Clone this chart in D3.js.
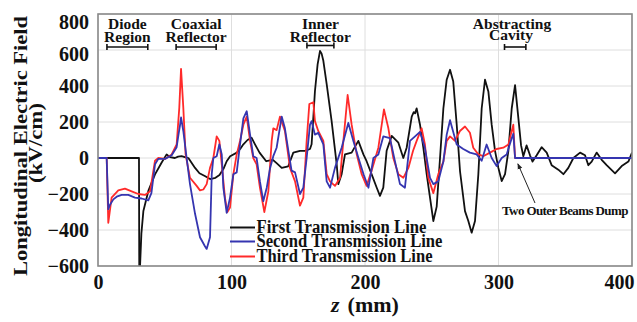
<!DOCTYPE html>
<html><head><meta charset="utf-8">
<script src="https://cdn.jsdelivr.net/npm/d3@7/dist/d3.min.js"></script>
<style>
html,body{margin:0;padding:0;background:#fff;}
svg{display:block;}
text{font-family:"Liberation Serif","Times New Roman",serif;font-weight:bold;fill:#111;}
</style></head>
<body>
<svg id="chart" width="637" height="322"></svg>
<script>
// ---- data (z in mm, field in kV/cm) ----
const firstLine = [[0,0],[30.7,0],[30.9,-600],[31.5,-600],[32.5,-420],[34,-294],[37.7,-183],[42.7,-91],[47.7,-25],[51.4,20],[54,5],[57.6,0],[60,8],[62.6,10],[65,5],[67.7,0],[72.7,-55],[76,-85],[80,-100],[84,-117],[88,-110],[91,-95],[94,-60],[96.4,-18],[99,10],[104,30],[106.5,50],[108.9,76],[112,100],[115,113],[117.6,76],[121,30],[126,-18],[131,-10],[134,-30],[137.6,-55],[142.5,-46],[146.3,30],[151.3,40],[155,40],[158.8,50],[160,76],[161.5,250],[162.5,371],[164.5,520],[166.3,595],[167.5,580],[168.8,540],[171.3,410],[175,205],[178.8,-35],[180,-145],[182.5,-90],[185,20],[190,30],[195,95],[198.8,20],[201.2,-18],[205,-91],[208.8,-165],[211.2,-210],[213.7,-165],[216.2,40],[220,123],[225,85],[228.7,0],[231.2,57],[235,230],[236.5,255],[237.5,248],[238.7,276],[241.2,185],[243.7,57],[246.2,-90],[248.7,-220],[251.2,-350],[253.7,-270],[256.2,0],[258.7,275],[261.2,435],[263.7,490],[266.1,425],[268.7,185],[271.2,-75],[274.9,-295],[277.4,-350],[279.9,-415],[282.4,-350],[284.9,-90],[287.4,275],[289.9,435],[292.4,370],[294.9,185],[297.4,40],[299.9,-55],[302.4,-128],[304.9,-90],[307.4,40],[309.9,275],[312.4,405],[314.9,220],[316.9,70],[318.6,10],[321,70],[323.6,15],[325.5,-20],[328.6,15],[332.3,60],[336.1,30],[339.8,-40],[344.8,-65],[348.6,-90],[352.3,-55],[356.1,0],[361.1,30],[364.8,15],[367.3,-40],[369.8,-20],[373.5,30],[377.3,-10],[381,-40],[387.3,-85],[392.3,-45],[397.3,-20],[400,30]];

const secondLine = [[0,0],[6.5,0],[7.7,-285],[9,-260],[11.5,-230],[14,-215],[17.7,-205],[22.7,-205],[27.7,-220],[32.7,-225],[37.7,-235],[40,-195],[42.7,-35],[45.2,-5],[50.2,-5],[55.2,15],[58.9,60],[60.5,140],[61.4,180],[62.2,225],[63.9,150],[66.4,0],[68.9,-145],[72.7,-310],[76.4,-440],[80.1,-490],[81.4,-505],[83.9,-440],[85.2,-90],[86.4,0],[88.9,10],[90.9,76],[92.7,20],[93.9,-165],[96.4,-305],[98.9,-220],[101.4,-90],[103.9,-80],[106.4,76],[108.9,220],[111.4,260],[113.9,130],[116.3,10],[118.8,0],[121.3,-130],[123.8,-240],[126.4,-165],[128.8,-60],[131.3,10],[133.8,57],[137.6,230],[140,165],[142.6,40],[145,-70],[147.6,-80],[151.3,-200],[153.8,-165],[156.3,0],[158.8,185],[160,205],[162.5,130],[165,140],[168.8,76],[171.3,-130],[173.8,-165],[177.5,-55],[182.5,57],[187.5,195],[191.3,95],[195.1,0],[198.9,-90],[202.6,-165],[206.3,0],[210,20],[213.7,120],[218.7,110],[222.5,-20],[226.2,-145],[229.9,-165],[233.7,95],[237.5,120],[241.2,145],[244.9,55],[248.7,-110],[251.2,-145],[254.9,-130],[258.7,-20],[261.2,130],[263.7,210],[266.1,145],[268.7,75],[273.6,50],[278.6,30],[283.6,20],[287.4,-15],[291.1,75],[294.9,0],[298.6,-45],[302.4,0],[306.1,20],[309.9,110],[311.1,135],[312.4,0],[400,0]];

const thirdLine = [[0,0],[6.5,0],[7.7,-360],[10.2,-220],[15.2,-180],[20.2,-170],[25.2,-185],[30.2,-200],[35.2,-205],[39,-185],[42.7,-15],[45.2,0],[50.2,-5],[55.2,20],[58.9,75],[60.9,280],[62.2,495],[63.9,280],[65.6,20],[68.9,-110],[73.9,-155],[76.4,-180],[78.9,-175],[81.4,-145],[83.9,-55],[86.4,0],[88.9,120],[90.9,95],[92.7,-35],[95.1,-220],[96.9,-300],[98.9,-275],[101.4,-90],[103.9,20],[106.4,95],[108.9,185],[111.4,230],[113.9,95],[116.3,0],[118.8,-35],[121.3,-165],[124.6,-300],[127.6,-185],[130.1,95],[131.3,165],[133.8,155],[136.3,230],[140,150],[143.8,-55],[147.6,-130],[151.3,-265],[153.8,-220],[156.3,95],[158.3,300],[161.3,310],[162.5,205],[165,150],[168.8,95],[171.3,-90],[173.8,-130],[177.5,-155],[181.3,-110],[183.8,95],[187,350],[190,185],[193.8,20],[197.5,-90],[201.2,-155],[205,-70],[210,57],[214.2,270],[217.5,165],[221.2,0],[225,-90],[228.7,-110],[232.5,-55],[236,40],[238.7,95],[242.4,165],[244.9,75],[247.4,-110],[251.2,-195],[254.9,-90],[258.7,-20],[261.2,95],[263.7,120],[267.4,95],[271.1,150],[274.9,175],[278.6,140],[281.1,57],[284.9,20],[288.6,10],[293.6,30],[298.6,50],[303.6,57],[307.4,75],[309.9,150],[311.1,185],[312.4,0],[400,0]];

const seriesNames = ["First Transmission Line","Second Transmission Line","Third Transmission Line"];
const seriesColors = ["#111111","#3535b0","#ff2a2a"];
const xTicks = [0,100,200,300,400];
const yTicks = [-600,-400,-200,0,200,400,600,800];
const regionNames = [["Diode","Region"],["Coaxial","Reflector"],["Inner","Reflector"],["Abstracting","Cavity"]];
const regionSpans = [[6.7,37.3],[58.5,88.5],[156.5,176.7],[304.5,320.5]];
const dumpLabel = "Two Outer Beams Dump";
const dumpPoint = [313, -10];

// ---- layout ----
const svg = d3.select("#chart");
const L = 98, R = 632, T = 14, B = 266;
const x = d3.scaleLinear().domain([0,400]).range([L,R]);
const y = d3.scaleLinear().domain([-600,800]).range([B,T]);

// grid
const g = svg.append("g");
g.selectAll(".hg").data(yTicks).enter().append("line")
  .attr("x1",L).attr("x2",R).attr("y1",d=>y(d)).attr("y2",d=>y(d))
  .attr("stroke","#dedede").attr("stroke-width",1);
g.selectAll(".vg").data(xTicks).enter().append("line")
  .attr("y1",T).attr("y2",B).attr("x1",d=>x(d)).attr("x2",d=>x(d))
  .attr("stroke","#dedede").attr("stroke-width",1);

// clip
svg.append("clipPath").attr("id","clip").append("rect")
  .attr("x",L).attr("y",T).attr("width",R-L).attr("height",B-T);

const line = d3.line().x(d=>x(d[0])).y(d=>y(d[1]));
const plot = svg.append("g").attr("clip-path","url(#clip)");
const drawOrder = [[firstLine,0],[thirdLine,2],[secondLine,1]];
drawOrder.forEach(([data,i])=>{
  plot.append("path").datum(data).attr("d",line)
    .attr("fill","none").attr("stroke",seriesColors[i])
    .attr("stroke-width",1.8).attr("stroke-linejoin","round");
});

// frame
svg.append("rect").attr("x",L).attr("y",T).attr("width",R-L).attr("height",B-T)
  .attr("fill","none").attr("stroke","#8a8a8a").attr("stroke-width",1.6);

// axes
const yAxis = svg.append("g").attr("transform",`translate(${L},0)`)
  .call(d3.axisLeft(y).tickValues(yTicks).tickSize(0).tickPadding(9).tickFormat(d3.format("d")));
yAxis.select(".domain").remove();
yAxis.selectAll("text").attr("font-size",20).attr("fill","#111")
  .attr("dy", d => d===800 ? "0.72em" : (d===600 ? "0.52em" : "0.34em"));

const xAxis = svg.append("g").attr("transform",`translate(0,${B})`)
  .call(d3.axisBottom(x).tickValues(xTicks).tickSize(0).tickPadding(9).tickFormat(d3.format("d")));
xAxis.select(".domain").remove();
xAxis.selectAll("text").attr("font-size",20).attr("fill","#111")
  .attr("dy","0.71em")
  .attr("text-anchor", d => d===400 ? "end" : "middle")
  .attr("dx", d => d===400 ? "0.1em" : 0);

// axis titles
svg.append("text").attr("transform","translate(27,146) rotate(-90)")
  .attr("text-anchor","middle").attr("font-size",19)
  .attr("textLength",260).attr("lengthAdjust","spacingAndGlyphs")
  .text("Longitudinal Electric Field");
svg.append("text").attr("transform","translate(42,143) rotate(-90)")
  .attr("text-anchor","middle").attr("font-size",19)
  .attr("textLength",80).attr("lengthAdjust","spacingAndGlyphs")
  .text("(kV/cm)");
const xt = svg.append("text").attr("x",331).attr("y",312).attr("font-size",22);
xt.append("tspan").attr("font-style","italic").text("z");
xt.append("tspan").attr("dx",8).text("(mm)");

// region annotations
regionNames.forEach((nm,i)=>{
  const [a,b] = regionSpans[i];
  const cx = (x(a)+x(b))/2;
  const by = i===2 ? 45.5 : 47;
  svg.append("text").attr("x", i===3 ? 512 : cx).attr("y",29).attr("text-anchor","middle")
    .attr("font-size",15.5).text(nm[0]);
  svg.append("text").attr("x", i===3 ? 511 : cx).attr("y", i===3 ? 40 : 41.5).attr("text-anchor","middle")
    .attr("font-size",15.5).text(nm[1]);
  const bg = svg.append("g").attr("stroke","#111").attr("stroke-width",1.6);
  bg.append("line").attr("x1",x(a)).attr("x2",x(b)).attr("y1",by).attr("y2",by);
  bg.append("line").attr("x1",x(a)).attr("x2",x(a)).attr("y1",by-3).attr("y2",by+3);
  bg.append("line").attr("x1",x(b)).attr("x2",x(b)).attr("y1",by-3).attr("y2",by+3);
});

// legend
const legY = [227.5, 241.5, 256.5];
const legLen = [170, 186, 176];
seriesNames.forEach((nm,i)=>{
  svg.append("line").attr("x1",230).attr("x2",255).attr("y1",legY[i]).attr("y2",legY[i])
    .attr("stroke",seriesColors[i]).attr("stroke-width",2);
  svg.append("text").attr("x",256.5).attr("y",legY[i]+5.8).attr("font-size",18.5)
    .attr("textLength",legLen[i]).attr("lengthAdjust","spacingAndGlyphs").text(nm);
});

// dump annotation
svg.append("defs").append("marker").attr("id","arr").attr("viewBox","0 0 10 10")
  .attr("refX",9).attr("refY",5).attr("markerWidth",6).attr("markerHeight",6)
  .attr("orient","auto").append("path").attr("d","M0,1 L10,5 L0,9 z").attr("fill","#222");
svg.append("line").attr("x1",535).attr("y1",203).attr("x2",x(dumpPoint[0])+2).attr("y2",y(dumpPoint[1])+4)
  .attr("stroke","#222").attr("stroke-width",1).attr("marker-end","url(#arr)");
svg.append("text").attr("x",502).attr("y",214.5).attr("font-size",13).attr("font-weight","normal")
  .attr("letter-spacing",-0.6).text(dumpLabel);
</script>
</body></html>
